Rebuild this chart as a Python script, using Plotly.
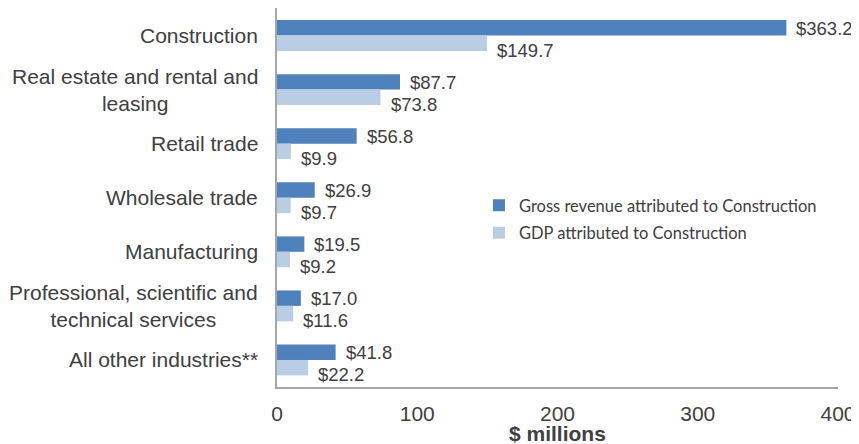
import plotly.graph_objects as go

categories = [
    "Construction",
    "Real estate and rental and<br>leasing",
    "Retail trade",
    "Wholesale trade",
    "Manufacturing",
    "Professional, scientific and<br>technical services",
    "All other industries**",
]
gross_revenue = [363.2, 87.7, 56.8, 26.9, 19.5, 17.0, 41.8]
gdp = [149.7, 73.8, 9.9, 9.7, 9.2, 11.6, 22.2]
series_names = ["Gross revenue attributed to Construction", "GDP attributed to Construction"]
x_ticks = [0, 100, 200, 300, 400]
x_title = "$ millions"

TEXT = "#404040"
FONT = "Liberation Sans, Arial, sans-serif"

fig = go.Figure()
fig.add_trace(go.Bar(
    y=categories, x=gross_revenue, orientation="h", name=series_names[0],
    marker=dict(color="#4F81BD", line=dict(width=0)), legendgroup="a",
))
fig.add_trace(go.Bar(
    y=categories, x=gdp, orientation="h", name=series_names[1],
    marker=dict(color="#B9CDE5", line=dict(width=0)), legendgroup="b",
))

# data labels
for vals, yshift in ((gross_revenue, 7), (gdp, -15)):
    for c, v in zip(categories, vals):
        fig.add_annotation(
            x=v, xref="x", y=c, yref="y", text=f"${v:.1f}", showarrow=False,
            xanchor="left", yanchor="middle", xshift=8, yshift=yshift,
            font=dict(size=18.5, color=TEXT, family=FONT),
        )

# category labels (centered multi-line)
for c in categories:
    fig.add_annotation(
        x=0, xref="paper", y=c, yref="y", text=c, showarrow=False,
        xanchor="right", yanchor="middle", align="center", xshift=-17,
        font=dict(size=21, color=TEXT, family=FONT),
    )

# x-axis title
fig.add_annotation(
    x=0.5, xref="paper", y=0, yref="paper", text=f"<b>{x_title}</b>", showarrow=False,
    xanchor="center", yanchor="top", yshift=-33,
    font=dict(size=21, color=TEXT, family=FONT),
)

fig.update_layout(
    width=851, height=436,
    margin=dict(l=269, r=21, t=0, b=57, autoexpand=False),
    paper_bgcolor="white", plot_bgcolor="white",
    barmode="group", bargap=0.43, bargroupgap=0,
    font=dict(family=FONT, color=TEXT),
    legend=dict(
        x=0.36, y=0.525, xanchor="left", yanchor="top",
        font=dict(size=16.5, color=TEXT, family="Lato, Open Sans, sans-serif"),
        bgcolor="rgba(0,0,0,0)", traceorder="grouped", tracegroupgap=3, itemwidth=30,
    ),
    showlegend=True,
)
fig.update_xaxes(
    range=[0, 400], tickvals=x_ticks, ticktext=[str(v) for v in x_ticks],
    showgrid=False, zeroline=False, showline=True, linecolor="#A6A6A6", linewidth=1.5,
    ticks="", ticklabelstandoff=7, tickfont=dict(size=21, color=TEXT, family=FONT),
    automargin=False,
)
fig.update_yaxes(
    autorange="reversed", showticklabels=False, showgrid=False, zeroline=False,
    showline=True, linecolor="#A6A6A6", linewidth=1.5, ticks="", automargin=False,
)

fig.write_html("out.html")
